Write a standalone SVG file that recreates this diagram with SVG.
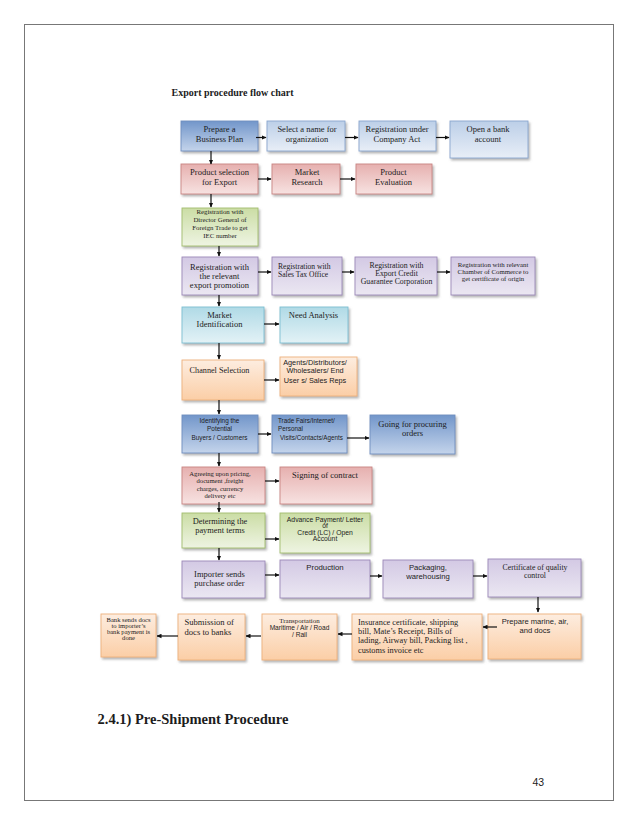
<svg xmlns="http://www.w3.org/2000/svg" width="638" height="826" viewBox="0 0 638 826">
<style>
.s{font-family:"Liberation Serif","Times New Roman",serif;fill:#1c1c1c}
.a{font-family:"Liberation Sans",Arial,sans-serif;fill:#1c1c1c}
.c{text-anchor:middle}
.box{filter:url(#sh);stroke-width:0.9}
.bd{fill:url(#gBD);stroke:#6f8fbf}
.bl{fill:url(#gBL);stroke:#8aa6cf}
.rd{fill:url(#gRD);stroke:#c98583}
.gr{fill:url(#gGR);stroke:#a3bd6e}
.pu{fill:url(#gPU);stroke:#9c89b8}
.cy{fill:url(#gCY);stroke:#7cbfd2}
.or{fill:url(#gOR);stroke:#eeb17c}
.ln{stroke:#111;stroke-width:1.2;fill:none;marker-end:url(#ah)}
</style>
<defs>
<marker id="ah" viewBox="0 0 10 10" refX="9" refY="5" markerWidth="5" markerHeight="5" markerUnits="userSpaceOnUse" orient="auto"><path d="M0,0.5 L10,5 L0,9.5 z" fill="#111"/></marker>
<filter id="sh" x="-10%" y="-10%" width="130%" height="140%"><feDropShadow dx="1.5" dy="2" stdDeviation="0.9" flood-color="#777" flood-opacity="0.55"/></filter>
<linearGradient id="gBD" x1="0" y1="0" x2="0" y2="1"><stop offset="0" stop-color="#7296ca"/><stop offset="1" stop-color="#c4d4eb"/></linearGradient>
<linearGradient id="gBL" x1="0" y1="0" x2="0" y2="1"><stop offset="0" stop-color="#bccfe8"/><stop offset="1" stop-color="#e8eef7"/></linearGradient>
<linearGradient id="gRD" x1="0" y1="0" x2="0" y2="1"><stop offset="0" stop-color="#e6b0af"/><stop offset="1" stop-color="#f7e2e1"/></linearGradient>
<linearGradient id="gGR" x1="0" y1="0" x2="0" y2="1"><stop offset="0" stop-color="#cbdda5"/><stop offset="1" stop-color="#eef4e2"/></linearGradient>
<linearGradient id="gPU" x1="0" y1="0" x2="0" y2="1"><stop offset="0" stop-color="#d3c9e4"/><stop offset="1" stop-color="#ebe7f2"/></linearGradient>
<linearGradient id="gCY" x1="0" y1="0" x2="0" y2="1"><stop offset="0" stop-color="#b0dae6"/><stop offset="1" stop-color="#e3f2f6"/></linearGradient>
<linearGradient id="gOR" x1="0" y1="0" x2="0" y2="1"><stop offset="0" stop-color="#fdede0"/><stop offset="1" stop-color="#fbcea6"/></linearGradient>
</defs>
<rect x="0" y="0" width="638" height="826" fill="#fff"/>
<rect x="24.5" y="24.5" width="589" height="776" fill="none" stroke="#777" stroke-width="1"/>
<text class="s" x="171.5" y="95.5" font-size="10" font-weight="bold">Export procedure flow chart</text>

<g id="n1"><rect class="box bd" x="181" y="121" width="77" height="30"/><text class="s c" font-size="8.5" x="219.5" y="132">Prepare a</text><text class="s c" font-size="8.5" x="219.5" y="142">Business Plan</text></g>
<g id="n2"><rect class="box bl" x="267" y="121" width="78" height="30"/><text class="s c" font-size="8.5" x="307" y="132">Select a name for</text><text class="s c" font-size="8.5" x="307" y="142">organization</text></g>
<g id="n3"><rect class="box bl" x="359" y="121" width="77" height="30"/><text class="s c" font-size="8.5" x="397" y="132">Registration under</text><text class="s c" font-size="8.5" x="397" y="142">Company Act</text></g>
<g id="n4"><rect class="box bl" x="450" y="121" width="78" height="37"/><text class="s c" font-size="8.5" x="488" y="132">Open a bank</text><text class="s c" font-size="8.5" x="488" y="142">account</text></g>

<g id="n5"><rect class="box rd" x="181" y="164" width="77" height="30"/><text class="s c" font-size="8.5" x="219.5" y="175">Product selection</text><text class="s c" font-size="8.5" x="219.5" y="184.5">for Export</text></g>
<g id="n6"><rect class="box rd" x="272" y="164" width="68" height="30"/><text class="s c" font-size="8.5" x="307" y="175">Market</text><text class="s c" font-size="8.5" x="307" y="184.5">Research</text></g>
<g id="n7"><rect class="box rd" x="356" y="164" width="76" height="30"/><text class="s c" font-size="8.5" x="393.5" y="175">Product</text><text class="s c" font-size="8.5" x="393.5" y="184.5">Evaluation</text></g>

<g id="n8"><rect class="box gr" x="182" y="208" width="76" height="38"/><text class="s c" font-size="6.8" x="220" y="214">Registration with</text><text class="s c" font-size="6.8" x="220" y="221.5">Director General of</text><text class="s c" font-size="6.8" x="220" y="229.5">Foreign Trade to get</text><text class="s c" font-size="6.8" x="220" y="237.5">IEC number</text></g>

<g id="n9"><rect class="box pu" x="182" y="257" width="76" height="38"/><text class="s c" font-size="8.5" x="219.5" y="269.5">Registration with</text><text class="s c" font-size="8.5" x="219.5" y="278.5">the relevant</text><text class="s c" font-size="8.5" x="219.5" y="287.5">export promotion</text></g>
<g id="n10"><rect class="box pu" x="272" y="257" width="70" height="38"/><text class="s" font-size="7.6" x="278" y="268.5">Registration with</text><text class="s" font-size="7.6" x="278" y="276.5">Sales Tax Office</text></g>
<g id="n11"><rect class="box pu" x="355" y="257" width="82" height="38"/><text class="s c" font-size="7.8" x="396.5" y="268">Registration with</text><text class="s c" font-size="7.8" x="396.5" y="275.5">Export Credit</text><text class="s c" font-size="7.8" x="396.5" y="284">Guarantee Corporation</text></g>
<g id="n12"><rect class="box pu" x="451" y="257" width="84" height="38"/><text class="s c" font-size="6.8" x="493" y="267">Registration with relevant</text><text class="s c" font-size="6.8" x="493" y="274">Chamber of Commerce to</text><text class="s c" font-size="6.8" x="493" y="281">get certificate of origin</text></g>

<g id="n13"><rect class="box cy" x="182" y="307" width="82" height="36"/><text class="s c" font-size="8.5" x="219.5" y="317.5">Market</text><text class="s c" font-size="8.5" x="219.5" y="326.5">Identification</text></g>
<g id="n14"><rect class="box cy" x="280" y="307" width="68" height="36"/><text class="s c" font-size="8.5" x="313.5" y="318">Need Analysis</text></g>

<g id="n15"><rect class="box or" x="182" y="360" width="82" height="40"/><text class="s c" font-size="8.2" x="219.5" y="373">Channel Selection</text></g>
<g id="n16"><rect class="box or" x="280" y="357" width="77" height="39"/><text class="a c" font-size="7.3" x="315" y="365">Agents/Distributors/</text><text class="a c" font-size="7.3" x="315" y="372.5">Wholesalers/ End</text><text class="a c" font-size="7.3" x="315" y="383">User s/ Sales Reps</text></g>

<g id="n17"><rect class="box bd" x="182" y="415" width="76" height="38"/><text class="a c" font-size="6.4" x="219.5" y="422.5">Identifying the</text><text class="a c" font-size="6.4" x="219.5" y="431">Potential</text><text class="a c" font-size="6.4" x="219.5" y="440">Buyers / Customers</text></g>
<g id="n18"><rect class="box bd" x="272" y="415" width="75" height="38"/><text class="a" font-size="6.3" x="278" y="422.5">Trade Fairs/Internet/</text><text class="a" font-size="6.3" x="278" y="431">Personal</text><text class="a" font-size="6.3" x="280" y="440">Visits/Contacts/Agents</text></g>
<g id="n19"><rect class="box bd" x="370" y="415" width="85" height="39"/><text class="s c" font-size="8.5" x="412.5" y="426.5">Going for procuring</text><text class="s c" font-size="8.5" x="412.5" y="436">orders</text></g>

<g id="n20"><rect class="box rd" x="182" y="467" width="83" height="37"/><text class="s c" font-size="6.6" x="220" y="475.5">Agreeing upon pricing,</text><text class="s c" font-size="6.6" x="220" y="483">document ,freight</text><text class="s c" font-size="6.6" x="220" y="490.5">charges, currency</text><text class="s c" font-size="6.6" x="220" y="498">delivery etc</text></g>
<g id="n21"><rect class="box rd" x="280" y="467" width="92" height="37"/><text class="s c" font-size="8.6" x="325" y="478">Signing of contract</text></g>

<g id="n22"><rect class="box gr" x="182" y="513" width="83" height="35"/><text class="s c" font-size="8.4" x="220" y="523.5">Determining the</text><text class="s c" font-size="8.4" x="220" y="533">payment terms</text></g>
<g id="n23"><rect class="box gr" x="280" y="513" width="90" height="40"/><text class="a c" font-size="6.8" x="325" y="522">Advance Payment/ Letter</text><text class="a c" font-size="6.8" x="325" y="528">of</text><text class="a c" font-size="6.8" x="325" y="534.5">Credit (LC) / Open</text><text class="a c" font-size="6.8" x="325" y="540.5">Account</text></g>

<g id="n24"><rect class="box pu" x="182" y="561" width="83" height="37"/><text class="s c" font-size="8.5" x="219.5" y="577">Importer sends</text><text class="s c" font-size="8.5" x="219.5" y="586">purchase order</text></g>
<g id="n25"><rect class="box pu" x="280" y="560" width="90" height="38"/><text class="a c" font-size="7.8" x="325" y="569.5">Production</text></g>
<g id="n26"><rect class="box pu" x="383" y="560" width="90" height="38"/><text class="a c" font-size="7.7" x="428" y="570">Packaging,</text><text class="a c" font-size="7.7" x="428" y="578.5">warehousing</text></g>
<g id="n27"><rect class="box pu" x="488" y="559" width="93" height="38"/><text class="s c" font-size="7.8" x="535" y="569.5">Certificate of quality</text><text class="s c" font-size="7.8" x="535" y="577.5">control</text></g>

<g id="n28"><rect class="box or" x="488" y="614" width="93" height="45"/><text class="a c" font-size="7.6" x="535" y="624">Prepare marine, air,</text><text class="a c" font-size="7.6" x="535" y="633">and docs</text></g>
<g id="n29"><rect class="box or" x="352" y="614" width="130" height="46"/><text class="s" font-size="8.3" x="358" y="625">Insurance certificate, shipping</text><text class="s" font-size="8.3" x="358" y="633.5">bill, Mate’s Receipt, Bills of</text><text class="s" font-size="8.3" x="358" y="642.5">lading, Airway bill, Packing list ,</text><text class="s" font-size="8.3" x="358" y="652.5">customs invoice etc</text></g>
<g id="n30"><rect class="box or" x="262" y="614" width="75" height="46"/><text class="s c" font-size="6.9" x="299.5" y="623">Transportation</text><text class="a c" font-size="6.6" x="299.5" y="630">Maritime / Air / Road</text><text class="a c" font-size="6.6" x="299.5" y="636.5">/ Rail</text></g>
<g id="n31"><rect class="box or" x="178" y="614" width="67" height="46"/><text class="s" font-size="8.6" x="184.5" y="625">Submission of</text><text class="s" font-size="8.6" x="184.5" y="634.5">docs to banks</text></g>
<g id="n32"><rect class="box or" x="101" y="614" width="55" height="43"/><text class="s c" font-size="6.6" x="128.5" y="621.5">Bank sends docs</text><text class="s c" font-size="6.6" x="128.5" y="627.8">to importer’s</text><text class="s c" font-size="6.6" x="128.5" y="633.8">bank payment is</text><text class="s c" font-size="6.6" x="128.5" y="640">done</text></g>

<g id="connectors">
<line class="ln" x1="211" y1="151" x2="211" y2="164"/>
<line class="ln" x1="211" y1="194" x2="211" y2="207"/>
<line class="ln" x1="219" y1="246" x2="219" y2="256"/>
<line class="ln" x1="219" y1="295" x2="219" y2="306"/>
<line class="ln" x1="219" y1="343" x2="219" y2="359"/>
<line class="ln" x1="219" y1="400" x2="219" y2="414"/>
<line class="ln" x1="219" y1="453" x2="219" y2="466"/>
<line class="ln" x1="219" y1="502" x2="219" y2="512"/>
<line class="ln" x1="219" y1="548" x2="219" y2="560"/>
<line class="ln" x1="538" y1="597" x2="538" y2="612"/>
<line class="ln" x1="256" y1="137.5" x2="266" y2="137.5"/>
<line class="ln" x1="345" y1="137.5" x2="358" y2="137.5"/>
<line class="ln" x1="436" y1="137.5" x2="449" y2="137.5"/>
<line class="ln" x1="258" y1="179" x2="271" y2="179"/>
<line class="ln" x1="340" y1="179" x2="355" y2="179"/>
<line class="ln" x1="258" y1="272" x2="271" y2="272"/>
<line class="ln" x1="342" y1="272" x2="354" y2="272"/>
<line class="ln" x1="437" y1="272" x2="450" y2="272"/>
<line class="ln" x1="264" y1="324" x2="279" y2="324"/>
<line class="ln" x1="264" y1="380" x2="279" y2="380"/>
<line class="ln" x1="258" y1="434" x2="271" y2="434"/>
<line class="ln" x1="347" y1="438" x2="369" y2="438"/>
<line class="ln" x1="265" y1="481" x2="279" y2="481"/>
<line class="ln" x1="265" y1="539" x2="279" y2="539"/>
<line class="ln" x1="265" y1="575" x2="279" y2="575"/>
<line class="ln" x1="370" y1="576" x2="382" y2="576"/>
<line class="ln" x1="473" y1="576" x2="487" y2="576"/>
<line class="ln" x1="497" y1="627" x2="483" y2="627"/>
<line class="ln" x1="352" y1="634" x2="338" y2="634"/>
<line class="ln" x1="261" y1="636" x2="246" y2="636"/>
<line class="ln" x1="178" y1="636" x2="157" y2="636"/>
</g>

<text class="s" x="97.5" y="723.5" font-size="14.5" font-weight="bold">2.4.1) Pre-Shipment Procedure</text>
<text class="a" x="532.5" y="786" font-size="10.5">43</text>
</svg>
